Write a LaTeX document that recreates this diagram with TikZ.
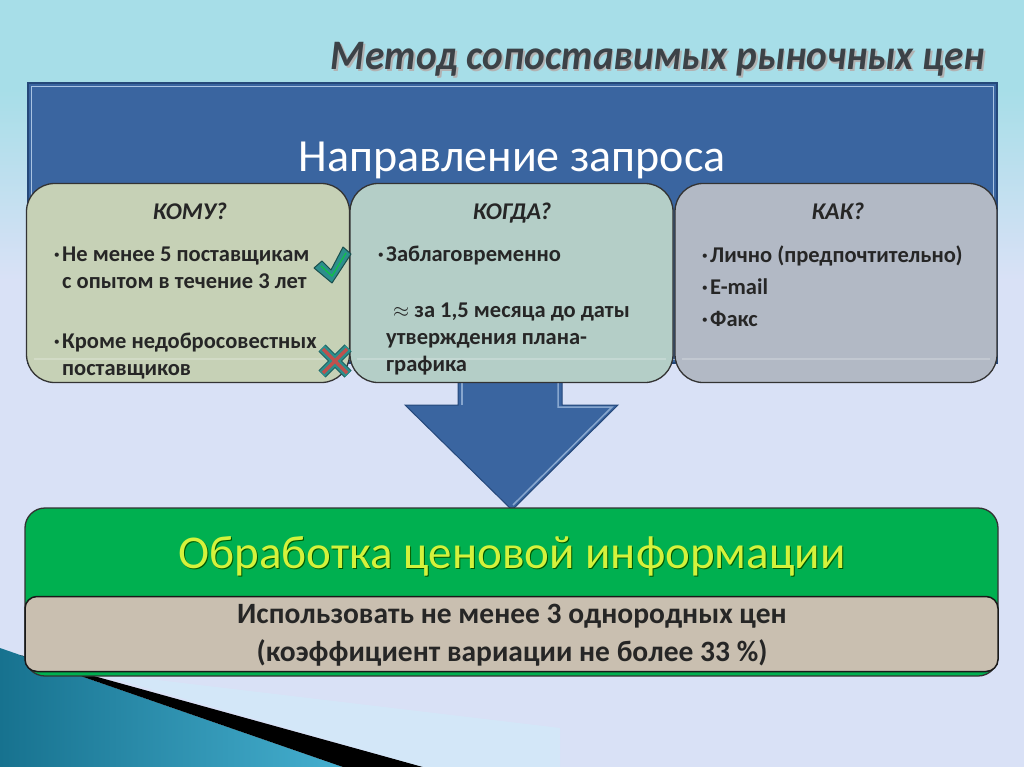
\documentclass[tikz,border=0pt]{standalone}
\usepackage{fontspec}
\setmainfont{Carlito}
\newfontfamily\titlefont[FakeStretch=0.935]{Carlito}
\definecolor{bgtop}{HTML}{A7DEE8}
\definecolor{bgbot}{HTML}{D9E1F6}
\definecolor{bluebox}{HTML}{3A65A0}
\definecolor{blueedge}{HTML}{25487A}
\definecolor{bluelight}{HTML}{A9C3E2}
\definecolor{boxa}{HTML}{C6D1B6}
\definecolor{boxb}{HTML}{B4CEC7}
\definecolor{boxc}{HTML}{B2B9C5}
\definecolor{greenbox}{HTML}{00B050}
\definecolor{greentext}{HTML}{D4F23C}
\definecolor{beige}{HTML}{C9BFB0}
\definecolor{titlegray}{HTML}{3C4247}
\definecolor{txt}{HTML}{262626}
\definecolor{tealmark}{HTML}{2D8E8C}
\definecolor{redmark}{HTML}{C0504D}
\definecolor{wedgedark}{HTML}{17728F}
\definecolor{wedgelight}{HTML}{45AFCF}
\tikzset{
  qbox/.style={draw=black!80, line width=1.3pt, rounded corners=28pt, minimum width=323pt, minimum height=199pt, inner sep=0pt},
  qhead/.style={anchor=base, font=\fontsize{24}{28}\selectfont\bfseries\itshape, text=txt},
  btxt/.style={anchor=base west, font=\fontsize{22.5}{27}\selectfont\bfseries, text=txt, inner sep=0pt},
  bul/.style={anchor=base east, font=\fontsize{22.5}{27}\selectfont\bfseries, text=txt, inner sep=0pt},
}
\begin{document}
\begin{tikzpicture}[x=1pt,y=-1pt]
\useasboundingbox (0,0) rectangle (1024,767);
% background
\fill[bgtop] (0,0) rectangle (1024,90);
\shade[top color=bgtop, bottom color=bgbot] (0,90) rectangle (1024,280);
\fill[bgbot] (0,280) rectangle (1024,767);
% bottom-left decoration
\shade[left color=wedgedark, right color=wedgelight] (0,648) -- (343,767) -- (0,767) -- cycle;
\fill[black] (20,655) -- (83,673) -- (423,767) -- (343,767) -- cycle;
\fill[white!80!cyan, opacity=0.45] (90,672) -- (560,728) -- (560,767) -- (423,767) -- cycle;
% title
\node[anchor=base east, font=\titlefont\fontsize{42}{50}\selectfont\bfseries\itshape, text=black!30, inner sep=0pt] (titleshadow) at (986.5,71.5) {Метод сопоставимых рыночных цен};
\node[anchor=base east, font=\titlefont\fontsize{42}{50}\selectfont\bfseries\itshape, text=titlegray, inner sep=0pt] (title) at (985,70) {Метод сопоставимых рыночных цен};
% blue frame
\node[draw=blueedge, fill=bluebox, line width=1.2pt, minimum width=969pt, minimum height=280pt, inner sep=0pt] (frame) at (512.5,223) {};
\draw[bluelight, line width=1.5pt] ([shift={(4pt,-4pt)}]frame.north west) rectangle ([shift={(-4pt,4pt)}]frame.south east);
\node[anchor=base, font=\fontsize{46}{52}\selectfont, text=white, inner sep=0pt] (head) at (512,172) {Направление запроса};
% arrow
\draw[draw=blueedge, fill=bluebox, line width=1pt] (458,370) -- (458,405) -- (405,405) -- (512,510) -- (618,405) -- (562,405) -- (562,370) -- cycle;
\draw[bluelight, opacity=0.7, line width=1.5pt] (462,372) -- (462,405);
\draw[bluelight, opacity=0.7, line width=1.5pt] (558,372) -- (558,407) -- (612,407) -- (513,505);
% three boxes
\node[qbox, fill=boxa] (whom) at (188,283) {};
\node[qbox, fill=boxb] (when) at (511.5,283) {};
\node[qbox, fill=boxc, minimum width=322pt] (how) at (836,283) {};
% gloss line
\foreach \b in {whom,when,how}{\draw[white, opacity=0.22, line width=1.5pt] ([shift={(8pt,24pt)}]\b.south west) -- ([shift={(-8pt,24pt)}]\b.south east);}
% box texts
\node[qhead] (h1) at (190,219) {КОМУ?};
\node[bul] (b1a) at (60,261) {·};
\node[btxt] (t1a) at (62,261) {Не менее 5 поставщикам};
\node[btxt] (t1b) at (62,288) {с опытом в течение 3 лет};
\node[bul] (b1c) at (60,348) {·};
\node[btxt] (t1c) at (62,348) {Кроме недобросовестных};
\node[btxt] (t1d) at (62,375) {поставщиков};
\node[qhead] (h2) at (512,219) {КОГДА?};
\node[bul] (b2a) at (384,261) {·};
\node[btxt] (t2a) at (386,261) {Заблаговременно};
\node[btxt] (t2b) at (393,317) {$\approx$ за 1,5 месяца до даты};
\node[btxt] (t2c) at (386,344) {утверждения плана-};
\node[btxt] (t2d) at (386,371) {графика};
\node[qhead] (h3) at (838,219) {КАК?};
\node[bul] (b3a) at (708,262) {·};
\node[btxt] (t3a) at (710,262) {Лично (предпочтительно)};
\node[bul] (b3b) at (708,294) {·};
\node[btxt] (t3b) at (710,294) {E-mail};
\node[bul] (b3c) at (708,326) {·};
\node[btxt] (t3c) at (710,326) {Факс};
% check mark
\draw[draw=tealmark!55!black, fill=tealmark, line width=1pt, line join=round] (314,268) -- (322,261) -- (331,270) -- (343,247) -- (351,254) -- (332,283) -- cycle;
\draw[green!70!teal, line width=1.2pt, opacity=0.7] (321,266) -- (332,276) -- (346,253);
% cross
\draw[tealmark!70!black, line width=10pt] (322,348) -- (348,374) (348,348) -- (322,374);
\draw[tealmark, line width=8pt] (322,348) -- (348,374) (348,348) -- (322,374);
\draw[redmark, line width=3.5pt] (323,349) -- (347,373) (347,349) -- (323,373);
% green box
\node[draw=black!80, fill=greenbox, line width=1.3pt, rounded corners=20pt, minimum width=973pt, minimum height=168pt, inner sep=0pt] (proc) at (511.5,592) {};
\node[anchor=base, font=\fontsize{47}{52}\selectfont, text=green!35!black, inner sep=0pt] (procshadow) at (513,569) {Обработка ценовой информации};
\node[anchor=base, font=\fontsize{47}{52}\selectfont, text=greentext, inner sep=0pt] (proctxt) at (512,568) {Обработка ценовой информации};
% beige box
\node[draw=black!90, fill=beige, line width=1.5pt, rounded corners=12pt, minimum width=973pt, minimum height=75pt, inner sep=0pt] (rule) at (511.5,634) {};
\node[anchor=base, font=\fontsize{29.5}{34}\selectfont\bfseries, text=txt, inner sep=0pt] (r1) at (512,623) {Использовать не менее 3 однородных цен};
\node[anchor=base, font=\fontsize{29.5}{34}\selectfont\bfseries, text=txt, inner sep=0pt] (r2) at (512,661) {(коэффициент вариации не более 33 \%)};
\end{tikzpicture}
\end{document}
